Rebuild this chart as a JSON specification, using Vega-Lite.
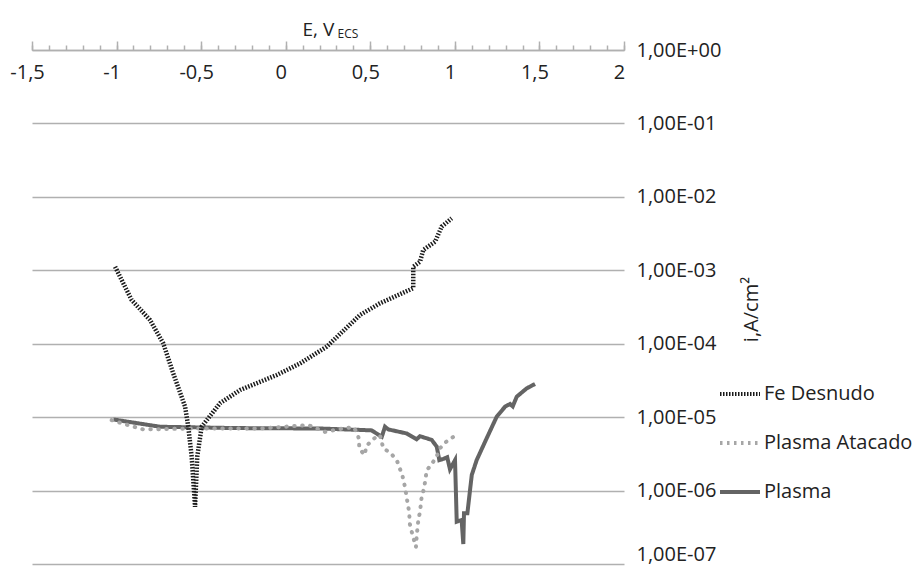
{
  "$schema": "https://vega.github.io/schema/vega-lite/v6.json",
  "autosize": "none",
  "width": 592,
  "height": 514,
  "padding": {"left": 32, "top": 50, "right": 294, "bottom": 5},
  "config": {"view": {"stroke": null}, "font": "Open Sans"},
  "data": {"values": [
    {"s": "Fe Desnudo", "i": 1, "E": -1.009, "I": 1.12e-3},
    {"s": "Fe Desnudo", "i": 2, "E": -0.911, "I": 3.94e-4},
    {"s": "Fe Desnudo", "i": 3, "E": -0.802, "I": 2.10e-4},
    {"s": "Fe Desnudo", "i": 4, "E": -0.724, "I": 1.01e-4},
    {"s": "Fe Desnudo", "i": 5, "E": -0.665, "I": 3.95e-5},
    {"s": "Fe Desnudo", "i": 6, "E": -0.595, "I": 1.39e-5},
    {"s": "Fe Desnudo", "i": 7, "E": -0.576, "I": 7.4e-6},
    {"s": "Fe Desnudo", "i": 8, "E": -0.556, "I": 2.89e-6},
    {"s": "Fe Desnudo", "i": 9, "E": -0.536, "I": 6.0e-7},
    {"s": "Fe Desnudo", "i": 10, "E": -0.523, "I": 2.89e-6},
    {"s": "Fe Desnudo", "i": 11, "E": -0.497, "I": 7.4e-6},
    {"s": "Fe Desnudo", "i": 12, "E": -0.467, "I": 9.1e-6},
    {"s": "Fe Desnudo", "i": 13, "E": -0.388, "I": 1.55e-5},
    {"s": "Fe Desnudo", "i": 14, "E": -0.270, "I": 2.34e-5},
    {"s": "Fe Desnudo", "i": 15, "E": -0.053, "I": 3.75e-5},
    {"s": "Fe Desnudo", "i": 16, "E": 0.085, "I": 5.4e-5},
    {"s": "Fe Desnudo", "i": 17, "E": 0.242, "I": 9.1e-5},
    {"s": "Fe Desnudo", "i": 18, "E": 0.439, "I": 2.46e-4},
    {"s": "Fe Desnudo", "i": 19, "E": 0.557, "I": 3.55e-4},
    {"s": "Fe Desnudo", "i": 20, "E": 0.754, "I": 5.7e-4},
    {"s": "Fe Desnudo", "i": 21, "E": 0.754, "I": 1.12e-3},
    {"s": "Fe Desnudo", "i": 22, "E": 0.794, "I": 1.31e-3},
    {"s": "Fe Desnudo", "i": 23, "E": 0.813, "I": 1.89e-3},
    {"s": "Fe Desnudo", "i": 24, "E": 0.883, "I": 2.45e-3},
    {"s": "Fe Desnudo", "i": 25, "E": 0.922, "I": 3.93e-3},
    {"s": "Fe Desnudo", "i": 26, "E": 0.981, "I": 5.1e-3},
    {"s": "Plasma Atacado", "i": 1, "E": -1.029, "I": 9.1e-6},
    {"s": "Plasma Atacado", "i": 2, "E": -0.98, "I": 8.4e-6},
    {"s": "Plasma Atacado", "i": 3, "E": -0.842, "I": 6.8e-6},
    {"s": "Plasma Atacado", "i": 4, "E": -0.546, "I": 7.0e-6},
    {"s": "Plasma Atacado", "i": 5, "E": -0.152, "I": 7.0e-6},
    {"s": "Plasma Atacado", "i": 6, "E": 0.134, "I": 7.8e-6},
    {"s": "Plasma Atacado", "i": 7, "E": 0.232, "I": 6.3e-6},
    {"s": "Plasma Atacado", "i": 8, "E": 0.321, "I": 6.9e-6},
    {"s": "Plasma Atacado", "i": 9, "E": 0.400, "I": 7.3e-6},
    {"s": "Plasma Atacado", "i": 10, "E": 0.423, "I": 6.1e-6},
    {"s": "Plasma Atacado", "i": 11, "E": 0.433, "I": 5.0e-6},
    {"s": "Plasma Atacado", "i": 12, "E": 0.435, "I": 3.77e-6},
    {"s": "Plasma Atacado", "i": 13, "E": 0.465, "I": 3.05e-6},
    {"s": "Plasma Atacado", "i": 14, "E": 0.479, "I": 4.1e-6},
    {"s": "Plasma Atacado", "i": 15, "E": 0.524, "I": 5.15e-6},
    {"s": "Plasma Atacado", "i": 16, "E": 0.557, "I": 5.7e-6},
    {"s": "Plasma Atacado", "i": 17, "E": 0.577, "I": 3.77e-6},
    {"s": "Plasma Atacado", "i": 18, "E": 0.623, "I": 3.22e-6},
    {"s": "Plasma Atacado", "i": 19, "E": 0.660, "I": 2.47e-6},
    {"s": "Plasma Atacado", "i": 20, "E": 0.690, "I": 1.6e-6},
    {"s": "Plasma Atacado", "i": 21, "E": 0.707, "I": 1.07e-6},
    {"s": "Plasma Atacado", "i": 22, "E": 0.715, "I": 8.0e-7},
    {"s": "Plasma Atacado", "i": 23, "E": 0.725, "I": 6.0e-7},
    {"s": "Plasma Atacado", "i": 24, "E": 0.731, "I": 4.65e-7},
    {"s": "Plasma Atacado", "i": 25, "E": 0.733, "I": 3.58e-7},
    {"s": "Plasma Atacado", "i": 26, "E": 0.745, "I": 2.75e-7},
    {"s": "Plasma Atacado", "i": 27, "E": 0.770, "I": 1.7e-7},
    {"s": "Plasma Atacado", "i": 28, "E": 0.774, "I": 2.35e-7},
    {"s": "Plasma Atacado", "i": 29, "E": 0.784, "I": 3.97e-7},
    {"s": "Plasma Atacado", "i": 30, "E": 0.794, "I": 5.15e-7},
    {"s": "Plasma Atacado", "i": 31, "E": 0.804, "I": 8.3e-7},
    {"s": "Plasma Atacado", "i": 32, "E": 0.818, "I": 1.07e-6},
    {"s": "Plasma Atacado", "i": 33, "E": 0.834, "I": 1.9e-6},
    {"s": "Plasma Atacado", "i": 34, "E": 0.863, "I": 2.28e-6},
    {"s": "Plasma Atacado", "i": 35, "E": 0.893, "I": 2.96e-6},
    {"s": "Plasma Atacado", "i": 36, "E": 0.912, "I": 3.77e-6},
    {"s": "Plasma Atacado", "i": 37, "E": 0.948, "I": 4.6e-6},
    {"s": "Plasma Atacado", "i": 38, "E": 0.991, "I": 5.4e-6},
    {"s": "Plasma", "i": 1, "E": -1.019, "I": 9.3e-6},
    {"s": "Plasma", "i": 2, "E": -0.743, "I": 7.4e-6},
    {"s": "Plasma", "i": 3, "E": -0.3, "I": 7.1e-6},
    {"s": "Plasma", "i": 4, "E": 0.203, "I": 7.0e-6},
    {"s": "Plasma", "i": 5, "E": 0.439, "I": 6.7e-6},
    {"s": "Plasma", "i": 6, "E": 0.508, "I": 6.6e-6},
    {"s": "Plasma", "i": 7, "E": 0.568, "I": 5.4e-6},
    {"s": "Plasma", "i": 8, "E": 0.587, "I": 7.4e-6},
    {"s": "Plasma", "i": 9, "E": 0.607, "I": 6.8e-6},
    {"s": "Plasma", "i": 10, "E": 0.715, "I": 6.0e-6},
    {"s": "Plasma", "i": 11, "E": 0.774, "I": 5.0e-6},
    {"s": "Plasma", "i": 12, "E": 0.794, "I": 5.5e-6},
    {"s": "Plasma", "i": 13, "E": 0.863, "I": 4.9e-6},
    {"s": "Plasma", "i": 14, "E": 0.893, "I": 3.96e-6},
    {"s": "Plasma", "i": 15, "E": 0.908, "I": 2.6e-6},
    {"s": "Plasma", "i": 16, "E": 0.932, "I": 2.7e-6},
    {"s": "Plasma", "i": 17, "E": 0.955, "I": 2.84e-6},
    {"s": "Plasma", "i": 18, "E": 0.971, "I": 1.95e-6},
    {"s": "Plasma", "i": 19, "E": 1.001, "I": 2.6e-6},
    {"s": "Plasma", "i": 20, "E": 1.007, "I": 8.3e-7},
    {"s": "Plasma", "i": 21, "E": 1.011, "I": 3.77e-7},
    {"s": "Plasma", "i": 22, "E": 1.04, "I": 3.97e-7},
    {"s": "Plasma", "i": 23, "E": 1.05, "I": 1.87e-7},
    {"s": "Plasma", "i": 24, "E": 1.054, "I": 4.9e-7},
    {"s": "Plasma", "i": 25, "E": 1.074, "I": 4.9e-7},
    {"s": "Plasma", "i": 26, "E": 1.1, "I": 1.63e-6},
    {"s": "Plasma", "i": 27, "E": 1.129, "I": 2.6e-6},
    {"s": "Plasma", "i": 28, "E": 1.188, "I": 5.15e-6},
    {"s": "Plasma", "i": 29, "E": 1.247, "I": 1.01e-5},
    {"s": "Plasma", "i": 30, "E": 1.297, "I": 1.39e-5},
    {"s": "Plasma", "i": 31, "E": 1.326, "I": 1.51e-5},
    {"s": "Plasma", "i": 32, "E": 1.342, "I": 1.40e-5},
    {"s": "Plasma", "i": 33, "E": 1.366, "I": 1.9e-5},
    {"s": "Plasma", "i": 34, "E": 1.425, "I": 2.47e-5},
    {"s": "Plasma", "i": 35, "E": 1.474, "I": 2.83e-5}
  ]},
  "encoding": {
    "y": {
      "field": "I", "type": "quantitative",
      "scale": {"type": "log", "domain": [1e-7, 1], "nice": false},
      "axis": {
        "orient": "right",
        "values": [1e-7, 1e-6, 1e-5, 1e-4, 1e-3, 1e-2, 1e-1, 1],
        "labelExpr": "'1,00E' + (round(log(datum.value)/LN10) < 0 ? '-' : '+') + (abs(round(log(datum.value)/LN10)) < 10 ? '0' : '') + abs(round(log(datum.value)/LN10))",
        "labelBaseline": {"condition": {"test": "datum.value < 2e-7", "value": "bottom"}, "value": "middle"},
        "grid": true, "gridColor": "#b0b0b0", "gridWidth": 1.5,
        "domain": false, "ticks": false,
        "labelPadding": 12, "labelFontSize": 20, "labelColor": "#222222",
        "title": "i,A/cm²", "titleAngle": 270, "titleX": 133, "titleY": 259,
        "titleAlign": "center", "titleBaseline": "alphabetic",
        "titleFontSize": 20, "titleFontWeight": "normal", "titleColor": "#222222"
      }
    },
    "color": {
      "field": "s", "type": "nominal",
      "scale": {"domain": ["Fe Desnudo", "Plasma Atacado", "Plasma"], "range": ["#1a1a1a", "#a6a6a6", "#646464"]},
      "legend": {
        "orient": "none", "legendX": 686, "legendY": 322, "title": null,
        "symbolType": "stroke", "symbolSize": 1600, "symbolStrokeWidth": 4,
        "labelFontSize": 20, "labelOffset": 2, "rowPadding": 17, "labelColor": "#222222"
      }
    },
    "strokeDash": {
      "field": "s", "type": "nominal",
      "scale": {"domain": ["Fe Desnudo", "Plasma Atacado", "Plasma"], "range": [[1.5, 1.5], [2.5, 4.5], [1, 0]]},
      "legend": null
    },
    "order": {"field": "i", "type": "quantitative"}
  },
  "layer": [
    {
      "transform": [{"filter": "datum.s === 'Plasma'"}],
      "mark": {"type": "line", "strokeWidth": 4},
      "encoding": {
        "x": {
          "field": "E", "type": "quantitative",
          "scale": {"domain": [-1.5, 2], "nice": false, "zero": false},
          "axis": {
            "orient": "top", "values": [-1.5, -1, -0.5, 0, 0.5, 1, 1.5, 2],
            "labelExpr": "replace(toString(datum.value), '.', ',')",
            "grid": false, "tickSize": 9, "tickColor": "#b0b0b0", "tickWidth": 1.5,
            "domainColor": "#b0b0b0", "domainWidth": 1.5,
            "labelPadding": -37, "labelBaseline": "alphabetic", "labelFlush": false,
            "labelOffset": -5, "labelFontSize": 20, "labelColor": "#222222",
            "title": "E, V", "titleX": 270, "titleY": -15, "titleAlign": "left",
            "titleBaseline": "alphabetic", "titleFontSize": 19, "titleFontWeight": "normal",
            "titleColor": "#222222"
          }
        }
      }
    },
    {
      "transform": [{"filter": "datum.s === 'Plasma Atacado'"}],
      "mark": {"type": "line", "strokeWidth": 4, "strokeCap": "round"},
      "encoding": {
        "strokeDash": {"value": [0.5, 7.5]},
        "x": {
          "field": "E", "type": "quantitative",
          "scale": {"domain": [-1.5, 2], "nice": false, "zero": false},
          "axis": {
            "orient": "top",
            "values": [-1.5, -1.4, -1.3, -1.2, -1.1, -1, -0.9, -0.8, -0.7, -0.6, -0.5, -0.4, -0.3, -0.2, -0.1, 0, 0.1, 0.2, 0.3, 0.4, 0.5, 0.6, 0.7, 0.8, 0.9, 1, 1.1, 1.2, 1.3, 1.4, 1.5, 1.6, 1.7, 1.8, 1.9, 2],
            "labels": false, "grid": false, "domain": false,
            "tickSize": 5, "tickColor": "#b0b0b0", "tickWidth": 1.5,
            "title": "ECS", "titleX": 305, "titleY": -13, "titleAlign": "left",
            "titleBaseline": "alphabetic", "titleFontSize": 12, "titleFontWeight": "normal",
            "titleColor": "#222222"
          }
        }
      }
    },
    {
      "transform": [{"filter": "datum.s === 'Fe Desnudo'"}],
      "mark": {"type": "line", "strokeWidth": 4.5},
      "encoding": {
        "x": {
          "field": "E", "type": "quantitative",
          "scale": {"domain": [-1.5, 2], "nice": false, "zero": false},
          "axis": null
        }
      }
    }
  ],
  "resolve": {"axis": {"x": "independent"}}
}
